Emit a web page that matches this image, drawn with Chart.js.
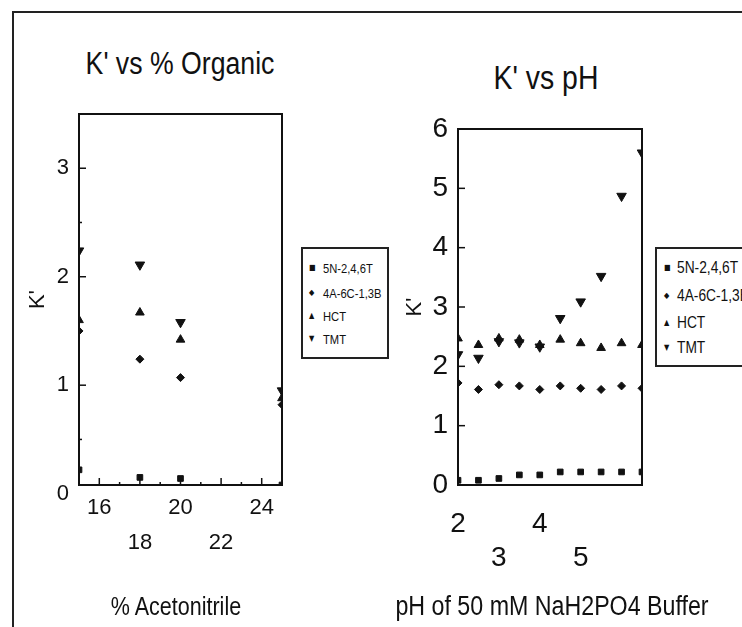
<!DOCTYPE html>
<html>
<head>
<meta charset="utf-8">
<script src="https://cdn.jsdelivr.net/npm/chart.js@4"></script>
<style>
  html, body { margin: 0; padding: 0; background: #fff; }
  body {
    width: 742px; height: 627px; overflow: hidden; position: relative;
    font-family: 'Liberation Sans', Arial, sans-serif; color: #111;
  }
  .frame { position: absolute; left: 12px; top: 11px; width: 800px; height: 700px;
           border-left: 2px solid #222; border-top: 2px solid #222; }
  canvas { position: absolute; top: 0; }
  /* narrow look: Liberation Sans squeezed sideways */
  .title, .axis-title { position: absolute; line-height: 1; white-space: nowrap;
           transform: translate(-50%, -50%) scaleX(0.86); }
  .legend { position: absolute; border: 2px solid #222; background: #fff; box-sizing: border-box; }
  .legend span { position: absolute; white-space: nowrap; line-height: 1;
                 transform: translateY(-50%) scaleX(0.86); transform-origin: left center; }
</style>
</head>
<body>
<div class="frame"></div>
<div class="title" style="left:180px; top:63px; font-size:31px;">K' vs % Organic</div>
<div class="title" style="left:546px; top:77px; font-size:33px;">K' vs pH</div>
<canvas id="organicChart" width="300" height="627" style="left:0px"></canvas>
<canvas id="phChart" width="362" height="627" style="left:380px"></canvas>
<div class="axis-title" style="left:176px; top:606px; font-size:25px;">% Acetonitrile</div>
<div class="axis-title" style="left:552px; top:606px; font-size:27px;">pH of 50 mM NaH2PO4 Buffer</div>
<div class="legend" id="organicLegend" style="left:301px; top:247px; width:88px; height:112px; font-size:13px;"></div>
<div class="legend" id="phLegend" style="left:655px; top:247px; width:120px; height:120px; font-size:16px;"></div>

<script>
// --- series shared by both panels ---
const seriesNames = ["5N-2,4,6T", "4A-6C-1,3B", "HCT", "TMT"];
const markerStyles = ["rect", "rectRot", "triangle", "triangle"];
const markerRotations = [0, 0, 0, 180];
const markerSizes = [4, 4, 5, 5.5];
const markerGlyphs = ["\u25A0", "\u25C6", "\u25B2", "\u25BC"];

// --- K' vs % Organic ---
const acetonitrile = [15, 18, 20, 25];
const organic5N = [0.22, 0.15, 0.14, 0.08];
const organic4A = [1.5, 1.24, 1.07, 0.82];
const organicHCT = [1.6, 1.67, 1.42, 0.88];
const organicTMT = [2.24, 2.11, 1.58, 0.95];
const organicTopTicks = [16, 20, 24];
const organicLowTicks = [18, 22];
const organicYTicks = [0, 0.5, 1, 1.5, 2, 2.5, 3, 3.5];

// --- K' vs pH ---
const pH = [2, 2.5, 3, 3.5, 4, 4.5, 5, 5.5, 6, 6.5];
const ph5N = [0.08, 0.08, 0.11, 0.17, 0.17, 0.22, 0.22, 0.22, 0.22, 0.22];
const ph4A = [1.72, 1.61, 1.69, 1.67, 1.61, 1.67, 1.63, 1.61, 1.67, 1.63];
const phHCT = [2.47, 2.36, 2.47, 2.45, 2.36, 2.45, 2.39, 2.31, 2.39, 2.36];
const phTMT = [2.2, 2.14, 2.42, 2.4, 2.33, 2.81, 3.09, 3.52, 4.87, 5.6];
const phTopTicks = [2, 4, 6];
const phLowTicks = [3, 5];
const phYTicks = [0, 0.5, 1, 1.5, 2, 2.5, 3, 3.5, 4, 4.5, 5, 5.5, 6];

const FONT = "'Liberation Sans', Arial, sans-serif";
const INK = "#111";

// frame round the plot area + tick marks pointing inwards
const innerTicks = {
  id: "innerTicks",
  afterDraw(chart, args, opts) {
    const { ctx, chartArea: a } = chart;
    ctx.save();
    ctx.strokeStyle = INK;
    ctx.lineWidth = 2;
    ctx.strokeRect(a.left, a.top, a.right - a.left, a.bottom - a.top);
    ctx.lineWidth = 1.5;
    (opts.axes || []).forEach(id => {
      const scale = chart.scales[id];
      const major = opts.major[id];
      scale.ticks.forEach(t => {
        if (t.value < scale.min || t.value > scale.max) return;
        const len = Number.isInteger(+(t.value / major).toFixed(6)) ? 7 : 3;
        const p = scale.getPixelForValue(t.value);
        ctx.beginPath();
        if (scale.isHorizontal()) {
          ctx.moveTo(p, a.bottom);
          ctx.lineTo(p, a.bottom - len);
        } else {
          ctx.moveTo(a.left, p);
          ctx.lineTo(a.left + len, p);
        }
        ctx.stroke();
      });
    });
    ctx.restore();
  }
};

function makeDatasets(xs, ys) {
  return ys.map((vals, i) => ({
    label: seriesNames[i],
    data: xs.map((x, j) => ({ x: x, y: vals[j] })),
    pointStyle: markerStyles[i],
    rotation: markerRotations[i],
    pointRadius: markerSizes[i],
    backgroundColor: INK,
    borderColor: INK,
    borderWidth: 1
  }));
}

function panel(canvasId, cfg) {
  const ctx = document.getElementById(canvasId).getContext("2d");
  return new Chart(ctx, {
    type: "scatter",
    data: { datasets: makeDatasets(cfg.xs, cfg.ys) },
    plugins: [innerTicks],
    options: {
      responsive: false,
      animation: false,
      events: [],
      layout: { padding: { top: cfg.top, right: cfg.right, left: 0, bottom: 0 } },
      plugins: {
        legend: { display: false },
        tooltip: { enabled: false },
        innerTicks: { axes: cfg.tickAxes, major: { x: 2, y: 1 } }
      },
      scales: {
        x: {
          type: "linear", min: cfg.xMin, max: cfg.xMax,
          grid: { display: false, drawTicks: false }, border: { display: false },
          ticks: {
            stepSize: cfg.xStep, autoSkip: false, maxRotation: 0, padding: cfg.xPad, color: INK,
            font: { family: FONT, size: cfg.tickSize, lineHeight: cfg.rowGap + "px" },
            callback: v => cfg.topTicks.includes(v) ? String(v)
              : cfg.lowTicks.includes(v) ? ["", String(v)] : ""
          },
          afterFit: s => { s.height = 627 - 485; }
        },
        y: {
          type: "linear", min: cfg.yMin, max: cfg.yMax,
          grid: { display: false, drawTicks: false }, border: { display: false },
          afterBuildTicks: s => { s.ticks = cfg.yTicks.map(v => ({ value: v })); },
          ticks: {
            padding: cfg.yPad, color: INK,
            font: { family: FONT, size: cfg.tickSize },
            callback: v => Number.isInteger(v) ? String(v) : ""
          },
          title: {
            display: true, text: "K'", color: INK,
            font: { family: FONT, size: 22, lineHeight: 1.2 },
            padding: { top: cfg.yTitlePad, bottom: 0 }
          },
          afterFit: s => { s.width = cfg.yWidth; }
        }
      }
    }
  });
}

panel("organicChart", {
  xs: acetonitrile, ys: [organic5N, organic4A, organicHCT, organicTMT],
  xMin: 15, xMax: 25, xStep: 1, yMin: 0.08, yMax: 3.5, yTicks: organicYTicks,
  top: 114, right: 18, yWidth: 79,
  tickSize: 22, rowGap: 35, xPad: 5, yPad: 10,
  topTicks: organicTopTicks, lowTicks: organicLowTicks,
  yTitlePad: 25, tickAxes: ["x", "y"]
});

panel("phChart", {
  xs: pH, ys: [ph5N, ph4A, phHCT, phTMT],
  xMin: 2, xMax: 6.5, xStep: 1, yMin: 0, yMax: 6, yTicks: phYTicks,
  top: 129, right: 100, yWidth: 78,
  tickSize: 28, rowGap: 34, xPad: 22, yPad: 10,
  topTicks: phTopTicks, lowTicks: phLowTicks,
  yTitlePad: 22, tickAxes: ["y"]
});

// legends: one small boxed key beside each panel
function fillLegend(id, rows, markX, textX) {
  const box = document.getElementById(id);
  seriesNames.forEach((name, i) => {
    const mk = document.createElement("span");
    mk.textContent = markerGlyphs[i];
    mk.style.cssText = "left:" + markX + "px; top:" + rows[i] + "px; font-size:8px; font-family:'DejaVu Sans';";
    const tx = document.createElement("span");
    tx.textContent = name;
    tx.style.cssText = "left:" + textX + "px; top:" + rows[i] + "px;";
    box.appendChild(mk);
    box.appendChild(tx);
  });
}
fillLegend("organicLegend", [19, 44, 67, 90], 6, 20);
fillLegend("phLegend", [19, 47, 74, 99], 7, 20);
</script>
</body>
</html>
